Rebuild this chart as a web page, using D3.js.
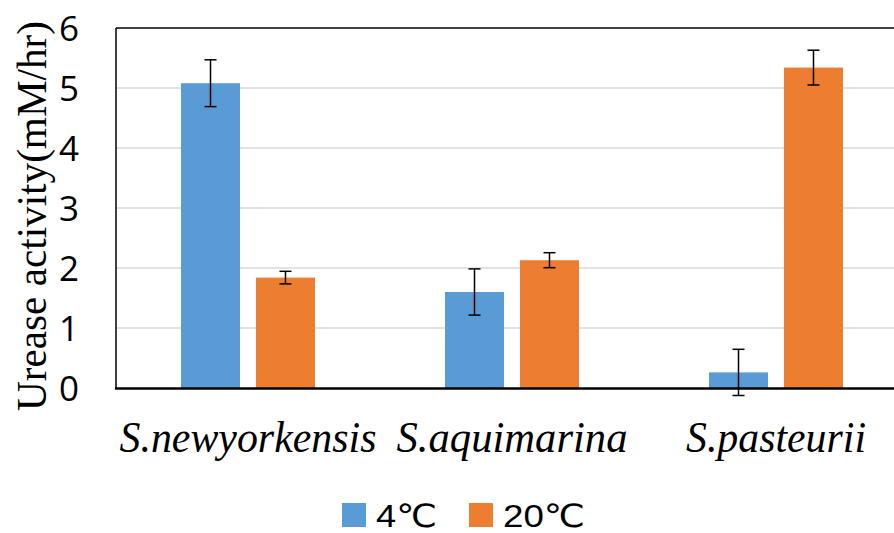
<!DOCTYPE html>
<html><head><meta charset="utf-8">
<script src="https://cdn.jsdelivr.net/npm/d3@7"></script>
<style>body{margin:0;background:#fff;}svg{display:block;}</style>
</head><body>
<svg id="chart" width="894" height="533"></svg>
<script>
const categories = ["S.newyorkensis", "S.aquimarina", "S.pasteurii"];
const seriesNames = ["4\u2103", "20\u2103"];
const values4C = [5.08, 1.60, 0.26];
const values20C = [1.84, 2.13, 5.34];
const err4C = [0.39, 0.385, 0.385];
const err20C = [0.105, 0.125, 0.29];
const yTicks = [0, 1, 2, 3, 4, 5, 6];
const colors = ["#5b9bd5", "#ed7d31"];

(function () {
const svg = d3.select("#chart");
const mLeft = 116, mRight = 908, mTop = 28, mBottom = 388;

const x = d3.scaleBand().domain(categories).range([mLeft, mRight]).paddingInner(0).paddingOuter(0);
const xs = d3.scaleBand().domain([0, 1]).range([0, x.bandwidth()]).paddingInner(0.213).paddingOuter(0.867);
const y = d3.scaleLinear().domain([0, 6]).range([mBottom, mTop]);

// gridlines
svg.append("g").selectAll("line").data(yTicks.filter(d => d > 0 && d < 6)).join("line")
  .attr("x1", mLeft).attr("x2", mRight).attr("y1", d => y(d)).attr("y2", d => y(d))
  .attr("stroke", "#d9d9d9").attr("stroke-width", 1.5);

const series = [values4C, values20C];
const errs = [err4C, err20C];
const data = [];
categories.forEach((c, i) => series.forEach((s, j) => data.push({c, j, v: s[i], e: errs[j][i]})));

svg.append("g").selectAll("rect").data(data).join("rect")
  .attr("x", d => x(d.c) + xs(d.j)).attr("width", xs.bandwidth())
  .attr("y", d => y(d.v)).attr("height", d => y(0) - y(d.v))
  .attr("fill", d => colors[d.j]);

// axes lines
svg.append("line").attr("x1", mLeft).attr("x2", 894).attr("y1", mTop).attr("y2", mTop)
  .attr("stroke", "#000").attr("stroke-width", 1.5);
svg.append("line").attr("x1", mLeft).attr("x2", mLeft).attr("y1", mTop).attr("y2", mBottom)
  .attr("stroke", "#000").attr("stroke-width", 1.5);
svg.append("line").attr("x1", mLeft - 1).attr("x2", 894).attr("y1", mBottom + 0.5).attr("y2", mBottom + 0.5)
  .attr("stroke", "#000").attr("stroke-width", 2.5);

// error bars
const eb = svg.append("g").attr("stroke", "#000").attr("stroke-width", 1.5);
data.forEach(d => {
  const cx = x(d.c) + xs(d.j) + xs.bandwidth() / 2;
  const y1 = y(d.v + d.e), y2 = y(d.v - d.e);
  eb.append("line").attr("x1", cx).attr("x2", cx).attr("y1", y1).attr("y2", y2);
  eb.append("line").attr("x1", cx - 6).attr("x2", cx + 6).attr("y1", y1).attr("y2", y1);
  eb.append("line").attr("x1", cx - 6).attr("x2", cx + 6).attr("y1", y2).attr("y2", y2);
});

// y tick labels
svg.append("g").selectAll("text").data(yTicks).join("text")
  .attr("x", 79).attr("y", d => y(d)).attr("dy", "0.36em")
  .attr("text-anchor", "end")
  .attr("font-family", "'Open Sans', 'Liberation Sans', sans-serif")
  .attr("font-size", 35).attr("fill", "#000")
  .text(d => d);

// y axis title
svg.append("text")
  .attr("transform", "translate(46,216) rotate(-90)")
  .attr("text-anchor", "middle")
  .attr("font-family", "'Liberation Serif', 'Times New Roman', serif")
  .attr("font-size", 42).attr("fill", "#000")
  .attr("textLength", 390).attr("lengthAdjust", "spacingAndGlyphs")
  .text("Urease activity(mM/hr)");

// x labels
const xLabelWidths = [257, 231, 180];
svg.append("g").selectAll("text").data(categories).join("text")
  .attr("x", d => x(d) + x.bandwidth() / 2).attr("y", 452)
  .attr("text-anchor", "middle")
  .attr("font-family", "'Liberation Serif', 'Times New Roman', serif")
  .attr("font-style", "italic")
  .attr("font-size", 45).attr("fill", "#000")
  .attr("textLength", (d, i) => xLabelWidths[i]).attr("lengthAdjust", "spacingAndGlyphs")
  .text(d => d);

// legend
const legendX = [342, 469];
const legendW = [61, 82];
const lg = svg.append("g");
seriesNames.forEach((n, i) => {
  lg.append("rect").attr("x", legendX[i]).attr("y", 503).attr("width", 24).attr("height", 24).attr("fill", colors[i]);
  lg.append("text").attr("x", legendX[i] + 34).attr("y", 527)
    .attr("font-family", "'Liberation Sans', 'DejaVu Sans', sans-serif")
    .attr("font-size", 32).attr("fill", "#000")
    .attr("textLength", legendW[i]).attr("lengthAdjust", "spacingAndGlyphs")
    .text(n);
});
})();
</script>
</body></html>
